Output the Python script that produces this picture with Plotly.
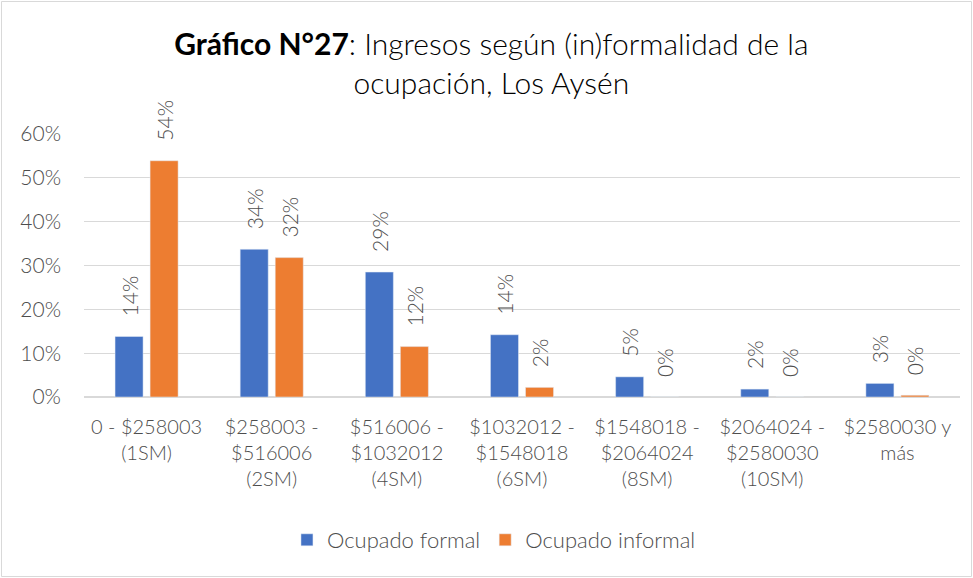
import plotly.graph_objects as go

categories = [
    "0 - $258003<br>(1SM)",
    "$258003 -<br>$516006<br>(2SM)",
    "$516006 -<br>$1032012<br>(4SM)",
    "$1032012 -<br>$1548018<br>(6SM)",
    "$1548018 -<br>$2064024<br>(8SM)",
    "$2064024 -<br>$2580030<br>(10SM)",
    "$2580030 y<br>más",
]
formal = [0.138, 0.337, 0.285, 0.142, 0.046, 0.018, 0.031]
informal = [0.539, 0.318, 0.115, 0.022, 0.0, 0.0, 0.004]
formal_labels = ["14%", "34%", "29%", "14%", "5%", "2%", "3%"]
informal_labels = ["54%", "32%", "12%", "2%", "0%", "0%", "0%"]

FONT = "Lato, 'Open Sans', sans-serif"
TXT = "#4d4d4d"
pad = "\u00a0\u00a0\u00a0"

fig = go.Figure()
for name, vals, labs, col in [("Ocupado formal", formal, formal_labels, "#4472C4"),
                              ("Ocupado informal", informal, informal_labels, "#ED7D31")]:
    fig.add_bar(x=categories, y=vals, name=name, marker_color=col,
                text=[pad + t for t in labs], textposition="outside", textangle=-90,
                textfont=dict(size=21, color=TXT, family=FONT, weight=300),
                cliponaxis=False, constraintext="none", hoverinfo="skip")

L, R, T, B = 84, 13, 134, 181
W, H = 973, 578
pw, ph = W - L - R, H - T - B

fig.update_layout(
    width=W, height=H,
    margin=dict(l=L, r=R, t=T, b=B, autoexpand=False),
    paper_bgcolor="white", plot_bgcolor="white",
    font=dict(family=FONT, color=TXT, size=20, weight=300),
    title=dict(
        text="<b>Gráfico N°27</b>: Ingresos según (in)formalidad de la<br>ocupación, Los Aysén",
        x=0.505, xanchor="center", y=1 - 55 / H, yanchor="middle",
        font=dict(size=30, color="#000000", family=FONT, weight=300),
    ),
    barmode="group", bargap=0.44, bargroupgap=0.2,
    showlegend=True,
    legend=dict(orientation="h", x=0.468, xanchor="center", y=(397 - 540) / ph,
                yanchor="middle", font=dict(size=22, color=TXT, family=FONT, weight=300),
                itemwidth=30),
    yaxis=dict(range=[0, 0.6], dtick=0.1, tickformat=".0%", showgrid=True,
               gridcolor="#D9D9D9", gridwidth=1, zeroline=True, zerolinecolor="#D9D9D9",
               showline=False, ticks="", ticklabelstandoff=22, automargin=False,
               tickfont=dict(size=21, color=TXT, family=FONT, weight=300), fixedrange=True),
    xaxis=dict(showgrid=False, showline=False, ticks="", ticklabelstandoff=16,
               automargin=False, fixedrange=True,
               tickfont=dict(size=20, color=TXT, family=FONT, weight=300), tickangle=0),
    shapes=[dict(type="rect", xref="paper", yref="paper",
                 x0=(1.5 - L) / pw, x1=(W - 1.5 - L) / pw,
                 y0=(397 - (H - 1.5)) / ph, y1=(397 - 1.5) / ph,
                 line=dict(color="#D9D9D9", width=1), layer="below")],
)

fig.write_html("out.html", config={"displayModeBar": False},
               post_script="document.body.style.margin='0px';")
